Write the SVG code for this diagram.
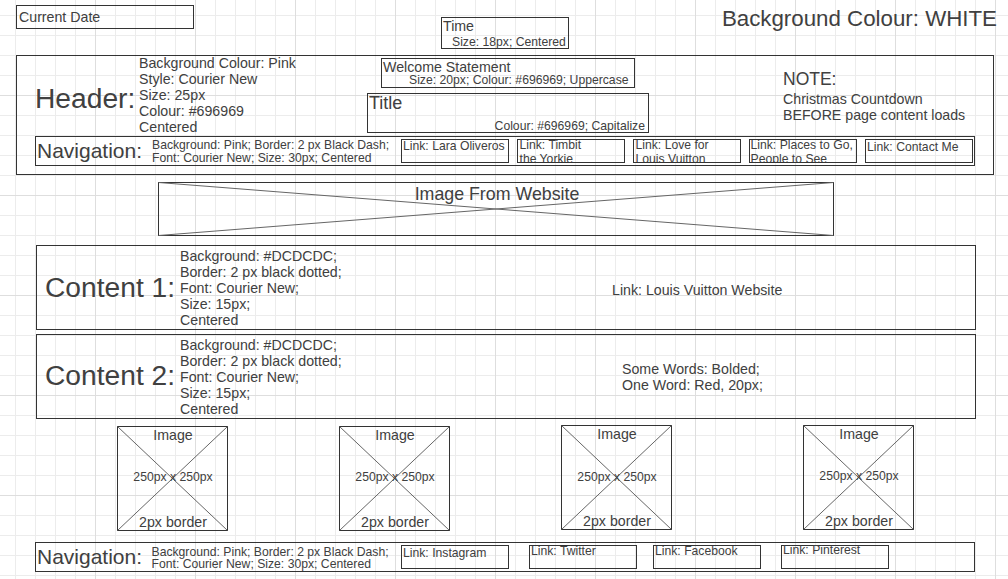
<svg xmlns="http://www.w3.org/2000/svg" width="1008" height="579" viewBox="0 0 1008 579">
<defs>
<pattern id="gMinor" patternUnits="userSpaceOnUse" x="15" y="15" width="20" height="20">
<path d="M0.5 0V20M0 0.5H20" stroke="#ececec" stroke-width="1" fill="none"/>
</pattern>
<pattern id="gMajor" patternUnits="userSpaceOnUse" x="95" y="95" width="100" height="100">
<path d="M0.5 0V100M0 0.5H100" stroke="#dedede" stroke-width="1" fill="none"/>
</pattern>
<clipPath id="cl2"><rect x="518" y="140" width="106" height="22"/></clipPath>
<clipPath id="cl3"><rect x="634" y="140" width="106" height="22"/></clipPath>
<clipPath id="cl4"><rect x="750" y="140" width="106" height="22"/></clipPath>
</defs>
<style>
.box{fill:none;stroke:#333333;stroke-width:1}
.x{stroke:#666666;stroke-width:1;fill:none}
text{font-family:"Liberation Sans",Arial,sans-serif;fill:#404040}
.s11{font-size:12.2px}
.s14{font-size:14.2px}
.s18{font-size:18px}
.big{font-size:28.2px}
.nav{font-size:21px}
.mid{text-anchor:middle}
.end{text-anchor:end}
</style>
<rect width="1008" height="579" fill="#ffffff"/>
<rect width="1008" height="579" fill="url(#gMinor)"/>
<rect width="1008" height="579" fill="url(#gMajor)"/>

<g id="current-date">
<rect class="box" x="16.5" y="5.5" width="177" height="23" fill="#fff"/>
<text class="s14" x="19" y="22">Current Date</text>
</g>

<g id="time">
<rect class="box" x="441.5" y="17.5" width="127" height="31" fill="#fff"/>
<text class="s14" x="443" y="31">Time</text>
<text class="s11" x="452" y="46">Size: 18px; Centered</text>
</g>

<g id="bg-note">
<text x="997" y="26" class="end" font-size="22.3">Background Colour: WHITE</text>
</g>

<g id="header">
<rect class="box" x="16.5" y="55.5" width="977" height="119" fill="#fff"/>
<text class="big" x="35" y="108">Header:</text>
<text class="s14" x="139" y="68">Background Colour: Pink</text>
<text class="s14" x="139" y="84">Style: Courier New</text>
<text class="s14" x="139" y="100">Size: 25px</text>
<text class="s14" x="139" y="116">Colour: #696969</text>
<text class="s14" x="139" y="132">Centered</text>
</g>

<g id="welcome">
<rect class="box" x="381.5" y="58.5" width="253" height="29"/>
<text class="s14" x="383" y="72">Welcome Statement</text>
<text class="s11" x="409" y="84">Size: 20px; Colour: #696969; Uppercase</text>
</g>

<g id="title">
<rect class="box" x="367.5" y="93.5" width="281" height="39"/>
<text class="s18" x="369" y="109">Title</text>
<text class="s11 end" x="645" y="130">Colour: #696969; Capitalize</text>
</g>

<g id="note">
<text x="783" y="85" font-size="17.5">NOTE:</text>
<text class="s14" x="783" y="104">Christmas Countdown</text>
<text class="s14" x="783" y="120">BEFORE page content loads</text>
</g>

<g id="nav-top">
<rect class="box" x="35.5" y="136.5" width="939" height="29"/>
<text class="nav" x="37" y="158">Navigation:</text>
<text class="s11" x="152" y="149">Background: Pink; Border: 2 px Black Dash;</text>
<text class="s11" x="152" y="161.5">Font: Courier New; Size: 30px; Centered</text>
</g>

<g id="link-lara">
<rect class="box" x="401.5" y="139.5" width="107" height="23"/>
<text class="s11" x="403" y="150">Link: Lara Oliveros</text>
</g>
<g id="link-timbit">
<rect class="box" x="517.5" y="139.5" width="107" height="23"/>
<g clip-path="url(#cl2)">
<text class="s11" x="519.5" y="149">Link: Timbit</text>
<text class="s11" x="519.5" y="162.5">the Yorkie</text>
</g>
</g>
<g id="link-lv">
<rect class="box" x="633.5" y="139.5" width="107" height="23"/>
<g clip-path="url(#cl3)">
<text class="s11" x="635.5" y="149">Link: Love for</text>
<text class="s11" x="635.5" y="162.5">Louis Vuitton</text>
</g>
</g>
<g id="link-places">
<rect class="box" x="749.5" y="139.5" width="107" height="23"/>
<g clip-path="url(#cl4)">
<text class="s11" x="750.5" y="149">Link: Places to Go,</text>
<text class="s11" x="750.5" y="162.5">People to See</text>
</g>
</g>
<g id="link-contact">
<rect class="box" x="865.5" y="139.5" width="107" height="23"/>
<text class="s11" x="867" y="150.5">Link: Contact Me</text>
</g>

<g id="image-website">
<rect class="box" x="158.5" y="182.5" width="675" height="53" fill="#fff"/>
<path class="x" d="M158.5 182.5L833.5 235.5M158.5 235.5L833.5 182.5"/>
<text class="mid" x="497" y="199.5" font-size="17.8">Image From Website</text>
</g>

<g id="content1">
<rect class="box" x="36.5" y="245.5" width="939" height="84" fill="#fff"/>
<text class="big" x="45" y="297">Content 1:</text>
<text class="s14" x="180" y="261">Background: #DCDCDC;</text>
<text class="s14" x="180" y="277">Border: 2 px black dotted;</text>
<text class="s14" x="180" y="293">Font: Courier New;</text>
<text class="s14" x="180" y="309">Size: 15px;</text>
<text class="s14" x="180" y="325">Centered</text>
<text class="s14" x="612" y="295">Link: Louis Vuitton Website</text>
</g>

<g id="content2">
<rect class="box" x="36.5" y="334.5" width="939" height="84" fill="#fff"/>
<text class="big" x="45" y="384.5">Content 2:</text>
<text class="s14" x="180" y="350">Background: #DCDCDC;</text>
<text class="s14" x="180" y="366">Border: 2 px black dotted;</text>
<text class="s14" x="180" y="382">Font: Courier New;</text>
<text class="s14" x="180" y="398">Size: 15px;</text>
<text class="s14" x="180" y="414">Centered</text>
<text class="s14" x="622" y="374">Some Words: Bolded;</text>
<text class="s14" x="622" y="390">One Word: Red, 20px;</text>
</g>

<g id="image1">
<rect class="box" x="117.5" y="426.5" width="110" height="104" fill="#fff"/>
<path class="x" d="M117.5 426.5L227.5 530.5M117.5 530.5L227.5 426.5"/>
<text class="s14 mid" x="173" y="440">Image</text>
<text class="s11 mid" x="173" y="481">250px x 250px</text>
<text class="s14 mid" x="173" y="527">2px border</text>
</g>
<g id="image2">
<rect class="box" x="339.5" y="426.5" width="110" height="104" fill="#fff"/>
<path class="x" d="M339.5 426.5L449.5 530.5M339.5 530.5L449.5 426.5"/>
<text class="s14 mid" x="395" y="440">Image</text>
<text class="s11 mid" x="395" y="481">250px x 250px</text>
<text class="s14 mid" x="395" y="527">2px border</text>
</g>
<g id="image3">
<rect class="box" x="561.5" y="425.5" width="110" height="104" fill="#fff"/>
<path class="x" d="M561.5 425.5L671.5 529.5M561.5 529.5L671.5 425.5"/>
<text class="s14 mid" x="617" y="439">Image</text>
<text class="s11 mid" x="617" y="481">250px x 250px</text>
<text class="s14 mid" x="617" y="526">2px border</text>
</g>
<g id="image4">
<rect class="box" x="803.5" y="425.5" width="110" height="104" fill="#fff"/>
<path class="x" d="M803.5 425.5L913.5 529.5M803.5 529.5L913.5 425.5"/>
<text class="s14 mid" x="859" y="439">Image</text>
<text class="s11 mid" x="859" y="480">250px x 250px</text>
<text class="s14 mid" x="859" y="526">2px border</text>
</g>

<g id="nav-bottom">
<rect class="box" x="35.5" y="542.5" width="939" height="29" fill="#fff"/>
<text class="nav" x="37" y="563.5">Navigation:</text>
<text class="s11" x="151.5" y="555.5">Background: Pink; Border: 2 px Black Dash;</text>
<text class="s11" x="151.5" y="568">Font: Courier New; Size: 30px; Centered</text>
</g>
<g id="link-instagram">
<rect class="box" x="401.5" y="545.5" width="107" height="23"/>
<text class="s11" x="403" y="556.5">Link: Instagram</text>
</g>
<g id="link-twitter">
<rect class="box" x="529.5" y="545.5" width="107" height="23"/>
<text class="s11" x="531" y="554.5">Link: Twitter</text>
</g>
<g id="link-facebook">
<rect class="box" x="653.5" y="545.5" width="107" height="23"/>
<text class="s11" x="655" y="554.5">Link: Facebook</text>
</g>
<g id="link-pinterest">
<rect class="box" x="781.5" y="545.5" width="107" height="23"/>
<text class="s11" x="783" y="553.5">Link: Pinterest</text>
</g>

<g id="connectors"/>
</svg>
